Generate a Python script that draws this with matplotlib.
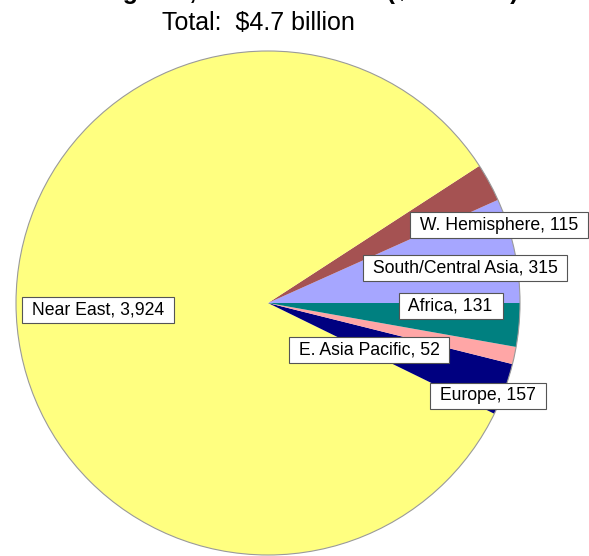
import matplotlib.pyplot as plt
from matplotlib.patches import Circle

# slices in drawing order, counterclockwise from 3 o'clock
regions = ["South/Central Asia", "W. Hemisphere", "Near East", "Europe",
           "E. Asia Pacific", "Africa"]
amounts = [315, 115, 3924, 157, 52, 131]
colors = ["#A6A6FF", "#A55252", "#FFFF80", "#000080", "#FFA6A6", "#008080"]

title = "All Regions, FY 2007 Actual ($ millions)"
subtitle = "Total:  $4.7 billion"

W, H = 589, 556


def main():
    fig = plt.figure(figsize=(W / 100, H / 100), dpi=100)
    ax = fig.add_axes([0, 0, 1, 1])

    cx, cy, r = 268, H - 303, 252
    ax.pie(amounts, colors=colors, startangle=0, counterclock=True,
           center=(cx, cy), radius=r, wedgeprops=dict(linewidth=0))
    ax.add_patch(Circle((cx, cy), r, fill=False, ec="#9a9a9a", lw=0.8))

    ax.set_xlim(0, W)
    ax.set_ylim(0, H)
    ax.set_aspect("auto")
    ax.axis("off")

    # label box centres in pixels from top-left
    spots = {
        "W. Hemisphere": (499, 225),
        "South/Central Asia": (465, 268),
        "Africa": (451, 306),
        "E. Asia Pacific": (369, 350),
        "Europe": (488, 396),
        "Near East": (98, 310),
    }
    for name, val in zip(regions, amounts):
        x, y = spots[name]
        ax.text(x, H - y, f" {name}, {val:,} ", ha="center", va="center",
                fontsize=12.7, family="Liberation Sans",
                bbox=dict(boxstyle="square,pad=0.28", fc="white",
                          ec="#555555", lw=0.8))

    ax.text(285, H + 1, title, ha="center", va="baseline", fontsize=18,
            fontweight="bold", family="Liberation Sans")
    ax.text(162, H - 30, subtitle, ha="left", va="baseline", fontsize=18,
            family="Liberation Sans")

    fig.savefig("out.png", dpi=100)


if __name__ == "__main__":
    main()
